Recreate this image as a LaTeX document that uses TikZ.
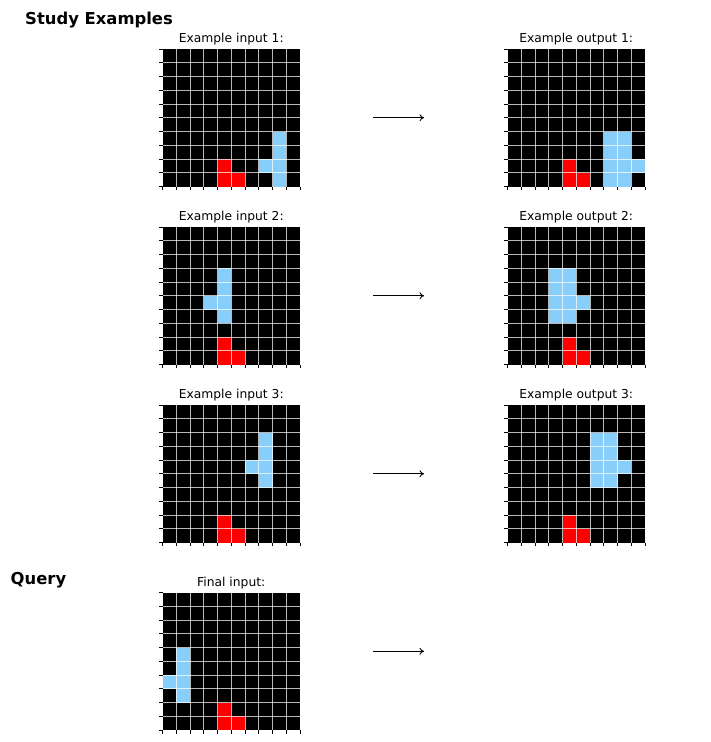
\documentclass[tikz,border=0pt]{standalone}
\usepackage{fontspec}
\setmainfont{DejaVu Sans}
\usetikzlibrary{arrows.meta}
\definecolor{cellblue}{HTML}{87CEFA}
\definecolor{cellred}{HTML}{FF0000}
\tikzset{
  gridtitle/.style={font=\fontsize{12.3}{14}\selectfont, anchor=base, inner sep=0pt},
  heading/.style={font=\fontsize{16.4}{19}\selectfont\bfseries, anchor=base west, inner sep=0pt},
  flow/.style={-{To[length=4.5pt,width=7pt]}, line width=0.9pt},
  gridline/.style={white, draw opacity=0.72, line width=1pt},
  tickline/.style={black, line width=0.8pt}
}
\newcommand\arcgrid[4]{%
  \begin{scope}[shift={(#2,#3)}]
    \fill[black] (0,0) rectangle (137.5,137.5);
    \foreach \r/\c/\col in {#4} {
      \fill[\col] (\c*13.75,\r*13.75) rectangle ++(13.75,13.75);
    }
    \foreach \i in {1,...,9} {
      \draw[gridline] (\i*13.75,0) -- (\i*13.75,137.5);
      \draw[gridline] (0,\i*13.75) -- (137.5,\i*13.75);
    }
    \foreach \i in {0,...,10} {
      \draw[tickline] (\i*13.75,137.5) -- ++(0,3.5);
      \draw[tickline] (0,\i*13.75) -- ++(-3.5,0);
    }
    \coordinate (#1) at (68.75,68.75);
  \end{scope}%
}
\begin{document}
\begin{tikzpicture}[x=1pt,y=-1pt]
\useasboundingbox (0,0) rectangle (711,742);

\node[heading] (hstudy) at (25,24) {Study Examples};
\node[heading] (hquery) at (10.5,584) {Query};

% row 1
\node[gridtitle] (ti1) at (231.25,42) {Example input 1:};
\node[gridtitle] (to1) at (576.25,42) {Example output 1:};
\arcgrid{gi1}{162.5}{49}{8/4/cellred,9/4/cellred,9/5/cellred,6/8/cellblue,7/8/cellblue,8/7/cellblue,8/8/cellblue,9/8/cellblue}
\arcgrid{go1}{507.5}{49}{8/4/cellred,9/4/cellred,9/5/cellred,6/7/cellblue,6/8/cellblue,7/7/cellblue,7/8/cellblue,8/7/cellblue,8/8/cellblue,8/9/cellblue,9/7/cellblue,9/8/cellblue}
\coordinate (a1s) at (373,117.75);
\coordinate (a1e) at (424,117.75);
\draw[flow] (a1s) -- (a1e);

% row 2
\node[gridtitle] (ti2) at (231.25,220.5) {Example input 2:};
\node[gridtitle] (to2) at (576.25,220.5) {Example output 2:};
\arcgrid{gi2}{162.5}{227}{8/4/cellred,9/4/cellred,9/5/cellred,3/4/cellblue,4/4/cellblue,5/3/cellblue,5/4/cellblue,6/4/cellblue}
\arcgrid{go2}{507.5}{227}{8/4/cellred,9/4/cellred,9/5/cellred,3/3/cellblue,3/4/cellblue,4/3/cellblue,4/4/cellblue,5/3/cellblue,5/4/cellblue,5/5/cellblue,6/3/cellblue,6/4/cellblue}
\coordinate (a2s) at (373,295.75);
\coordinate (a2e) at (424,295.75);
\draw[flow] (a2s) -- (a2e);

% row 3
\node[gridtitle] (ti3) at (231.25,398.5) {Example input 3:};
\node[gridtitle] (to3) at (576.25,398.5) {Example output 3:};
\arcgrid{gi3}{162.5}{405}{8/4/cellred,9/4/cellred,9/5/cellred,2/7/cellblue,3/7/cellblue,4/6/cellblue,4/7/cellblue,5/7/cellblue}
\arcgrid{go3}{507.5}{405}{8/4/cellred,9/4/cellred,9/5/cellred,2/6/cellblue,2/7/cellblue,3/6/cellblue,3/7/cellblue,4/6/cellblue,4/7/cellblue,4/8/cellblue,5/6/cellblue,5/7/cellblue}
\coordinate (a3s) at (373,473.75);
\coordinate (a3e) at (424,473.75);
\draw[flow] (a3s) -- (a3e);

% query
\node[gridtitle] (tf) at (231.25,586) {Final input:};
\arcgrid{gf}{162.5}{592.5}{8/4/cellred,9/4/cellred,9/5/cellred,4/1/cellblue,5/1/cellblue,6/0/cellblue,6/1/cellblue,7/1/cellblue}
\coordinate (a4s) at (373,651.25);
\coordinate (a4e) at (424,651.25);
\draw[flow] (a4s) -- (a4e);
\end{tikzpicture}
\end{document}
